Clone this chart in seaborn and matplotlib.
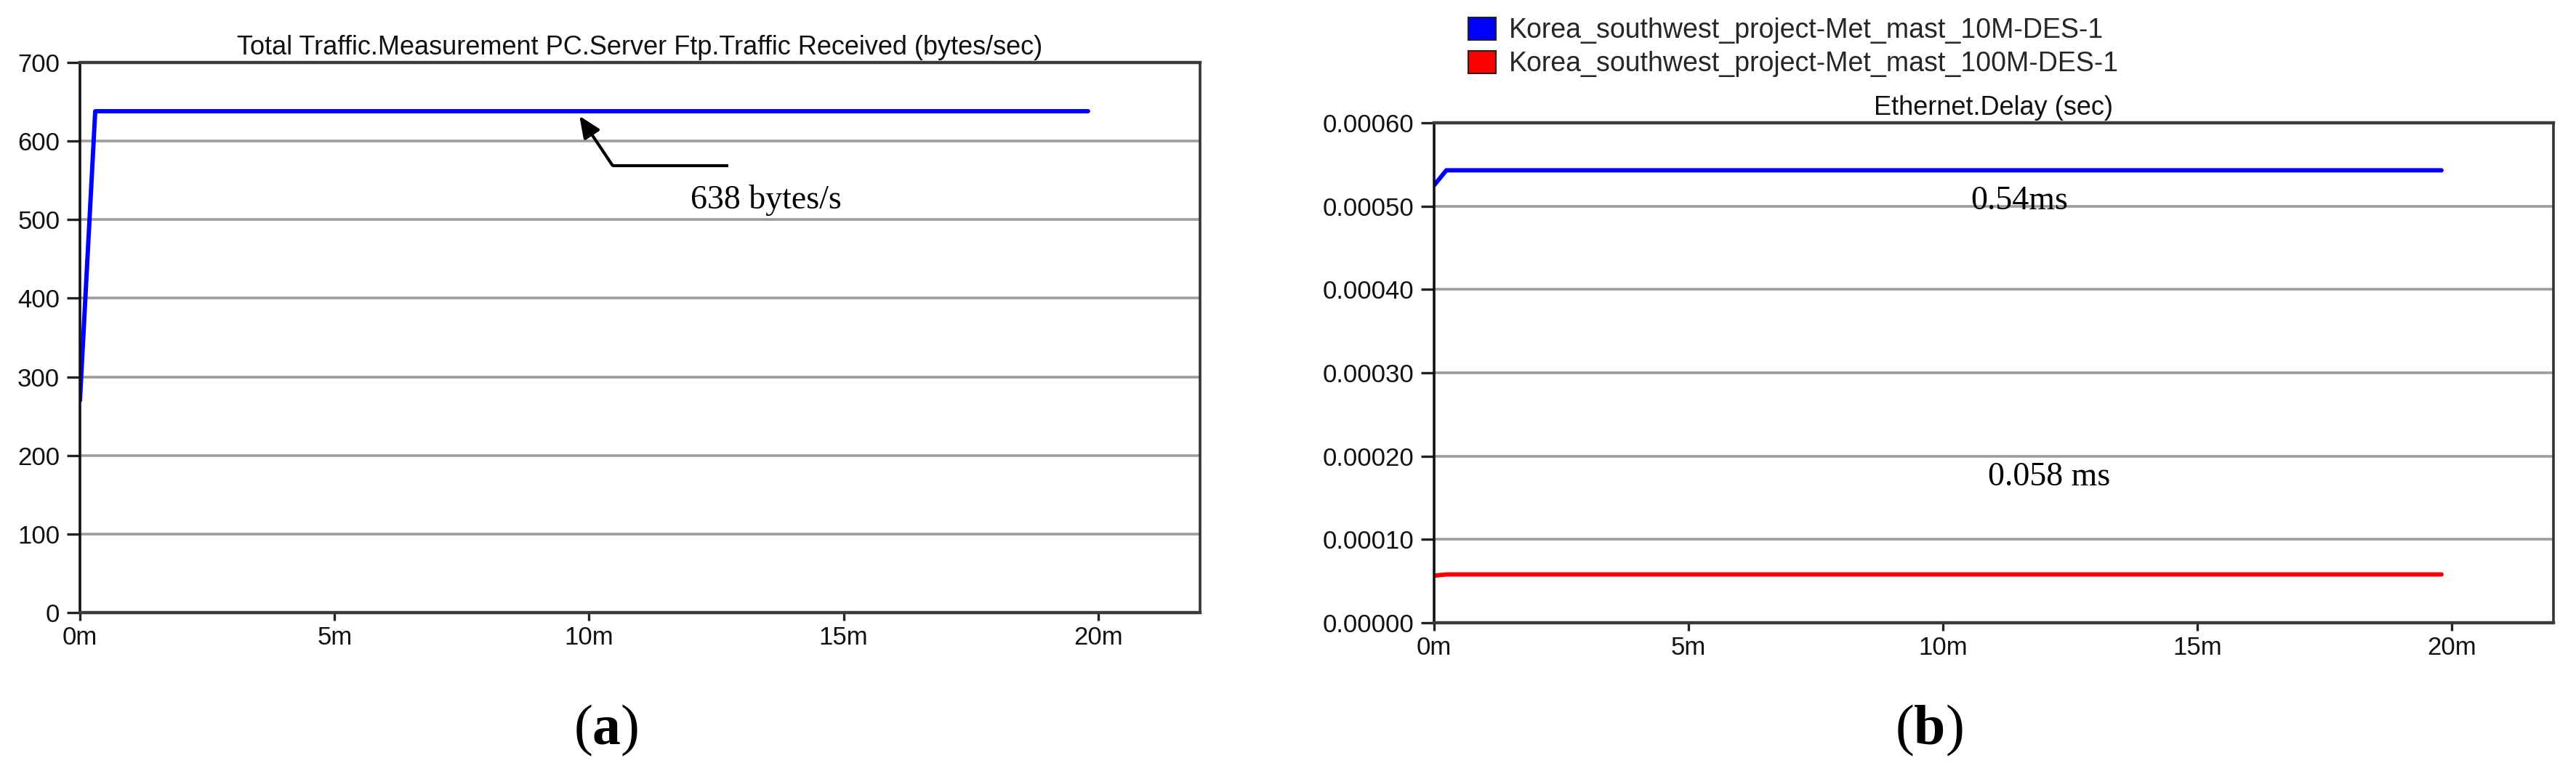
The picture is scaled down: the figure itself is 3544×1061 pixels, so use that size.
import numpy as np
import pandas as pd
import matplotlib
matplotlib.use("Agg")
import matplotlib.pyplot as plt
import seaborn as sns
from matplotlib.patches import Patch

# ---------------- data ----------------
traffic_time_min = [0.0, 0.3, 19.8]
traffic_bytes = [270, 638, 638]

delay_time_min = [0.0, 0.24, 19.8]
delay_10M = [0.000525, 0.000543, 0.000543]
delay_100M = [0.0000565, 0.000058, 0.000058]

series_names = ["Korea_southwest_project-Met_mast_10M-DES-1",
                "Korea_southwest_project-Met_mast_100M-DES-1"]
series_colors = ["#0000ff", "#ff0000"]

x_ticks = [0, 5, 10, 15, 20]
x_tick_labels = ["0m", "5m", "10m", "15m", "20m"]
left_yticks = [0, 100, 200, 300, 400, 500, 600, 700]
right_yticks = [0.0, 0.0001, 0.0002, 0.0003, 0.0004, 0.0005, 0.0006]
right_ytick_labels = ["0.00000", "0.00010", "0.00020", "0.00030",
                      "0.00040", "0.00050", "0.00060"]

left_title = "Total Traffic.Measurement PC.Server Ftp.Traffic Received (bytes/sec)"
right_title = "Ethernet.Delay (sec)"

# ---------------- style ----------------
sns.set_theme(style="white")
plt.rcParams["font.family"] = ["Liberation Sans", "DejaVu Sans"]
plt.rcParams["mathtext.fontset"] = "custom"
plt.rcParams["mathtext.rm"] = "Liberation Serif"
plt.rcParams["mathtext.bf"] = "Liberation Serif:bold"

W, H = 3544, 1061
fig = plt.figure(figsize=(W / 100, H / 100), dpi=100)
fig.patch.set_facecolor("white")

def px_axes(x0, x1, ytop, ybot):
    return fig.add_axes([x0 / W, 1 - ybot / H, (x1 - x0) / W, (ybot - ytop) / H])

ax1 = px_axes(110, 1651, 86, 843)
ax2 = px_axes(1973, 3513, 169, 857)

grid_color = "#9c9c9c"
tick_fs = 25
serif = "Liberation Serif"

def style_axes(ax):
    ax.set_facecolor("white")
    ax.set_xlim(0, 22)
    ax.set_xticks(x_ticks)
    ax.set_xticklabels(x_tick_labels)
    ax.grid(False)
    ax.yaxis.grid(True, color=grid_color, linewidth=2.6)
    ax.set_axisbelow(True)
    for side, col, lw in [("left", "#111111", 2.6), ("bottom", "#3a3a3a", 3.2),
                          ("top", "#3a3a3a", 3.2), ("right", "#333333", 2.6)]:
        ax.spines[side].set_visible(True)
        ax.spines[side].set_color(col)
        ax.spines[side].set_linewidth(lw)
    ax.tick_params(axis="y", direction="out", length=13, width=2.4, color="#222222",
                   labelsize=tick_fs, pad=7, left=True)
    ax.tick_params(axis="x", direction="out", length=8, width=2.4, color="#222222",
                   labelsize=tick_fs, pad=5, bottom=True)
    for lab in ax.get_xticklabels() + ax.get_yticklabels():
        lab.set_color("#111111")
    ax.set_xlabel("")
    ax.set_ylabel("")

# ---------------- left panel ----------------
df1 = pd.DataFrame({"t": traffic_time_min, "v": traffic_bytes})
sns.lineplot(data=df1, x="t", y="v", ax=ax1, color="#0000ff", linewidth=4.3,
             legend=False)
ax1.set_ylim(0, 700)
ax1.set_yticks(left_yticks)
style_axes(ax1)
ax1.set_title(left_title, fontsize=26, pad=8, color="#111111")

# arrow annotation
arrow_tip = (9.81, 632)
arrow_elbow = (10.46, 569)
arrow_end = (12.73, 569)
ax1.plot([arrow_elbow[0], arrow_end[0]], [arrow_elbow[1], arrow_end[1]],
         color="black", linewidth=3.0, solid_capstyle="butt")
ax1.annotate("", xy=arrow_tip, xytext=arrow_elbow,
             arrowprops=dict(arrowstyle="-|>,head_length=1.5,head_width=0.65",
                             color="black", linewidth=3.0, shrinkA=0, shrinkB=0))
ax1.text(13.48, 525, "638 bytes/s", fontsize=33, family=serif,
         ha="center", va="center", color="black")

# ---------------- right panel ----------------
df2 = pd.DataFrame({
    "t": delay_time_min * 2,
    "v": delay_10M + delay_100M,
    "s": [series_names[0]] * len(delay_time_min) + [series_names[1]] * len(delay_time_min),
})
sns.lineplot(data=df2, x="t", y="v", hue="s", palette=series_colors, ax=ax2,
             linewidth=4.3, legend=False)
ax2.set_ylim(0, 0.0006)
ax2.set_yticks(right_yticks)
ax2.set_yticklabels(right_ytick_labels)
style_axes(ax2)
ax2.set_title(right_title, fontsize=26, pad=8, color="#111111")

ax2.text(11.5, 0.000506, "0.54ms", fontsize=33, family=serif,
         ha="center", va="center", color="black")
ax2.text(12.09, 0.000175, "0.058 ms", fontsize=33, family=serif,
         ha="center", va="center", color="black")

handles = [Patch(facecolor=c, edgecolor="#222222", linewidth=1.5) for c in series_colors]
fig.legend(handles, series_names, loc="center left",
           bbox_to_anchor=(2020 / W, 1 - 65 / H), frameon=False,
           fontsize=27, handlelength=1.0, handleheight=0.9, handletextpad=0.5,
           labelspacing=0.25, borderaxespad=0, borderpad=0)

# panel labels
fig.text(834 / W, 1 - 1005 / H, r"$(\mathbf{a})$", fontsize=56, ha="center",
         va="center", color="black")
fig.text(2654 / W, 1 - 1005 / H, r"$(\mathbf{b})$", fontsize=56, ha="center",
         va="center", color="black")

fig.savefig("out.png", dpi=100, facecolor="white")
